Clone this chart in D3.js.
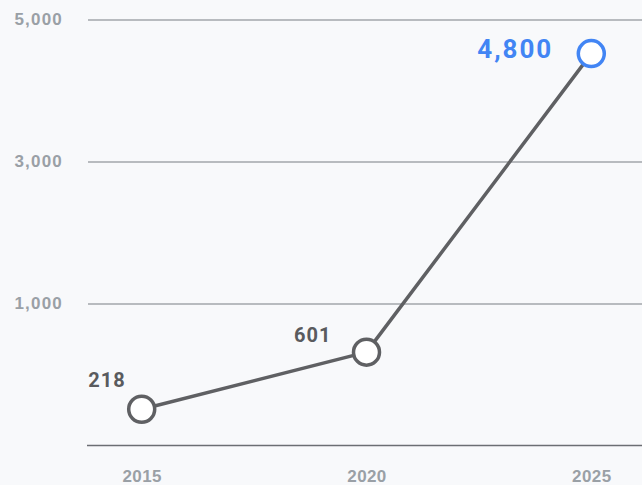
<!DOCTYPE html>
<html>
<head>
<meta charset="utf-8">
<script src="https://cdn.jsdelivr.net/npm/d3@7"></script>
<style>
  html, body { margin: 0; padding: 0; background: #f8f9fb; }
  svg { display: block; font-family: Roboto, "Open Sans", sans-serif; }
</style>
</head>
<body>
<div id="chart"></div>
<script>
// data
var years = ["2015", "2020", "2025"];
// plotted heights, read against the gridlines of the picture
var values = [-490, 315, 4520];
// texts written next to the points
var pointLabels = ["218", "601", "4,800"];
var yTicks = [1000, 3000, 5000];

var W = 642, H = 485;

// label placement per point (right edge / baseline relative to the point)
var labelOffsets = [[-16, -22], [-35, -10], [-38, 4]];

var svg = d3.select("#chart").append("svg")
  .attr("width", W)
  .attr("height", H);

svg.append("rect")
  .attr("width", W)
  .attr("height", H)
  .attr("fill", "#f8f9fb");

var x = d3.scalePoint()
  .domain(years)
  .range([141.7, 591.3]);

var y = d3.scaleLinear()
  .domain([-1000, 5000])
  .range([445.5, 19.5]);

// gridlines + y labels
var yAxis = svg.append("g")
  .attr("transform", "translate(88,0)")
  .call(d3.axisLeft(y)
    .tickValues(yTicks)
    .tickFormat(d3.format(","))
    .tickSize(-(W - 88))
    .tickPadding(25));

yAxis.select(".domain").remove();
yAxis.selectAll(".tick line")
  .attr("stroke", "#a3a6ab")
  .attr("stroke-width", 1.3);
yAxis.selectAll(".tick text")
  .attr("fill", "#9aa0a6")
  .attr("font-size", 17)
  .attr("font-weight", 700)
  .attr("letter-spacing", 1.2);

// baseline
svg.append("line")
  .attr("x1", 87)
  .attr("x2", W)
  .attr("y1", y(-1000))
  .attr("y2", y(-1000))
  .attr("stroke", "#6b6e73")
  .attr("stroke-width", 1.5);

// x labels
var xAxis = svg.append("g")
  .attr("transform", "translate(0," + y(-1000) + ")")
  .call(d3.axisBottom(x).tickSize(0).tickPadding(24));

xAxis.select(".domain").remove();
xAxis.selectAll(".tick text")
  .attr("fill", "#9aa0a6")
  .attr("font-size", 17)
  .attr("font-weight", 700)
  .attr("letter-spacing", 0.4);

// line
var line = d3.line()
  .x(function(d, i) { return x(years[i]); })
  .y(function(d) { return y(d); });

svg.append("path")
  .datum(values)
  .attr("d", line)
  .attr("fill", "none")
  .attr("stroke", "#5f6063")
  .attr("stroke-width", 3.5)
  .attr("stroke-linejoin", "round");

// points
var last = values.length - 1;

svg.selectAll(".pt")
  .data(values)
  .enter()
  .append("circle")
  .attr("class", "pt")
  .attr("cx", function(d, i) { return x(years[i]); })
  .attr("cy", function(d) { return y(d); })
  .attr("r", 13)
  .attr("fill", "#ffffff")
  .attr("stroke", function(d, i) { return i === last ? "#4285f4" : "#5f6063"; })
  .attr("stroke-width", 3.5);

// point labels
svg.selectAll(".lbl")
  .data(values)
  .enter()
  .append("text")
  .attr("class", "lbl")
  .attr("x", function(d, i) { return x(years[i]) + labelOffsets[i][0]; })
  .attr("y", function(d, i) { return y(d) + labelOffsets[i][1]; })
  .attr("text-anchor", "end")
  .attr("font-size", function(d, i) { return i === last ? 26 : 20; })
  .attr("font-weight", 700)
  .attr("letter-spacing", function(d, i) { return i === last ? 2 : 1; })
  .attr("fill", function(d, i) { return i === last ? "#4285f4" : "#5a5b5e"; })
  .text(function(d, i) { return pointLabels[i]; });
</script>
</body>
</html>
